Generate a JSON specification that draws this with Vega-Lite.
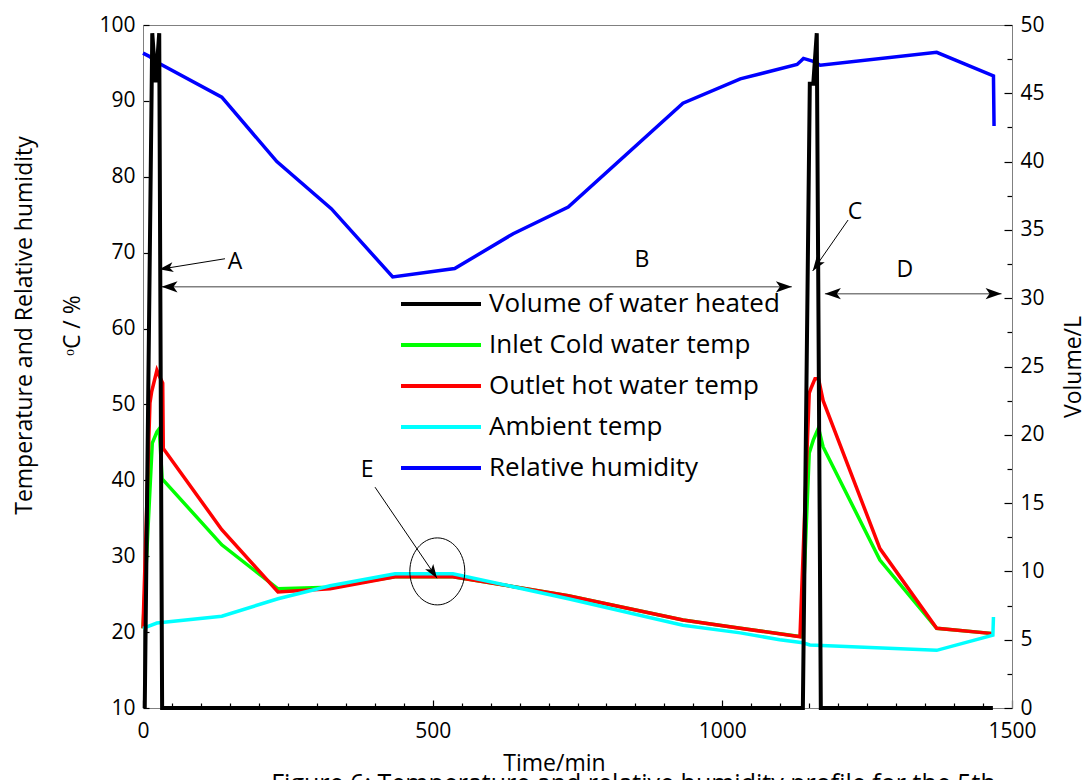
{
  "$schema": "https://vega.github.io/schema/vega-lite/v6.json",
  "width": 869,
  "height": 683,
  "autosize": {"type": "none"},
  "padding": {"left": 143, "top": 25, "right": 78, "bottom": 72},
  "background": "white",
  "config": {
    "font": "Open Sans",
    "view": {"stroke": "#808080", "strokeWidth": 1},
    "axis": {
      "labelFont": "Open Sans", "labelFontSize": 21, "labelColor": "#000000",
      "titleFont": "Open Sans", "titleFontSize": 23, "titleFontWeight": "normal", "titleColor": "#000000",
      "domainColor": "#808080", "tickColor": "#000000", "tickWidth": 1.2, "grid": false,
      "labelFlush": false, "labelOverlap": false, "labelBound": false, "format": "d"
    }
  },
  "title": {
    "text": "Figure 6: Temperature and relative humidity profile for the 5th",
    "orient": "bottom", "anchor": "middle", "font": "Open Sans", "fontSize": 25,
    "fontWeight": "normal", "color": "#000000", "offset": -3, "dx": 56
  },
  "datasets": {
    "series": [
      {"series": "Inlet Cold water temp", "t": 0, "v": 20.5},
      {"series": "Inlet Cold water temp", "t": 16, "v": 44.9},
      {"series": "Inlet Cold water temp", "t": 24, "v": 46.4},
      {"series": "Inlet Cold water temp", "t": 28, "v": 46.8},
      {"series": "Inlet Cold water temp", "t": 33, "v": 40.2},
      {"series": "Inlet Cold water temp", "t": 136, "v": 31.5},
      {"series": "Inlet Cold water temp", "t": 233, "v": 25.7},
      {"series": "Inlet Cold water temp", "t": 323, "v": 25.9},
      {"series": "Inlet Cold water temp", "t": 435, "v": 27.3},
      {"series": "Inlet Cold water temp", "t": 535, "v": 27.3},
      {"series": "Inlet Cold water temp", "t": 734, "v": 24.8},
      {"series": "Inlet Cold water temp", "t": 932, "v": 21.6},
      {"series": "Inlet Cold water temp", "t": 1031, "v": 20.5},
      {"series": "Inlet Cold water temp", "t": 1137, "v": 19.4},
      {"series": "Inlet Cold water temp", "t": 1150, "v": 43.6},
      {"series": "Inlet Cold water temp", "t": 1157, "v": 45.3},
      {"series": "Inlet Cold water temp", "t": 1161, "v": 46.0},
      {"series": "Inlet Cold water temp", "t": 1166, "v": 46.9},
      {"series": "Inlet Cold water temp", "t": 1174, "v": 44.4},
      {"series": "Inlet Cold water temp", "t": 1272, "v": 29.5},
      {"series": "Inlet Cold water temp", "t": 1370, "v": 20.5},
      {"series": "Inlet Cold water temp", "t": 1468, "v": 19.8},
      {"series": "Outlet hot water temp", "t": 0, "v": 20.5},
      {"series": "Outlet hot water temp", "t": 12, "v": 50.2},
      {"series": "Outlet hot water temp", "t": 15, "v": 51.7},
      {"series": "Outlet hot water temp", "t": 24, "v": 54.5},
      {"series": "Outlet hot water temp", "t": 29, "v": 53.6},
      {"series": "Outlet hot water temp", "t": 34, "v": 52.8},
      {"series": "Outlet hot water temp", "t": 35, "v": 44.2},
      {"series": "Outlet hot water temp", "t": 136, "v": 33.5},
      {"series": "Outlet hot water temp", "t": 233, "v": 25.3},
      {"series": "Outlet hot water temp", "t": 323, "v": 25.7},
      {"series": "Outlet hot water temp", "t": 435, "v": 27.3},
      {"series": "Outlet hot water temp", "t": 535, "v": 27.3},
      {"series": "Outlet hot water temp", "t": 734, "v": 24.8},
      {"series": "Outlet hot water temp", "t": 932, "v": 21.6},
      {"series": "Outlet hot water temp", "t": 1031, "v": 20.5},
      {"series": "Outlet hot water temp", "t": 1134, "v": 19.4},
      {"series": "Outlet hot water temp", "t": 1150, "v": 51.5},
      {"series": "Outlet hot water temp", "t": 1154, "v": 52.3},
      {"series": "Outlet hot water temp", "t": 1160, "v": 53.4},
      {"series": "Outlet hot water temp", "t": 1166, "v": 53.4},
      {"series": "Outlet hot water temp", "t": 1174, "v": 50.5},
      {"series": "Outlet hot water temp", "t": 1272, "v": 31.0},
      {"series": "Outlet hot water temp", "t": 1370, "v": 20.5},
      {"series": "Outlet hot water temp", "t": 1468, "v": 19.8},
      {"series": "Ambient temp", "t": 0, "v": 20.5},
      {"series": "Ambient temp", "t": 24, "v": 21.2},
      {"series": "Ambient temp", "t": 136, "v": 22.1},
      {"series": "Ambient temp", "t": 233, "v": 24.4},
      {"series": "Ambient temp", "t": 323, "v": 26.1},
      {"series": "Ambient temp", "t": 435, "v": 27.7},
      {"series": "Ambient temp", "t": 535, "v": 27.7},
      {"series": "Ambient temp", "t": 734, "v": 24.4},
      {"series": "Ambient temp", "t": 932, "v": 20.9},
      {"series": "Ambient temp", "t": 1031, "v": 19.9},
      {"series": "Ambient temp", "t": 1099, "v": 19.0},
      {"series": "Ambient temp", "t": 1139, "v": 18.6},
      {"series": "Ambient temp", "t": 1151, "v": 18.3},
      {"series": "Ambient temp", "t": 1370, "v": 17.6},
      {"series": "Ambient temp", "t": 1467, "v": 19.6},
      {"series": "Ambient temp", "t": 1468, "v": 22.0},
      {"series": "Relative humidity", "t": 0, "v": 96.3},
      {"series": "Relative humidity", "t": 10, "v": 95.9},
      {"series": "Relative humidity", "t": 29, "v": 94.9},
      {"series": "Relative humidity", "t": 136, "v": 90.5},
      {"series": "Relative humidity", "t": 231, "v": 82.0},
      {"series": "Relative humidity", "t": 325, "v": 75.8},
      {"series": "Relative humidity", "t": 431, "v": 66.8},
      {"series": "Relative humidity", "t": 538, "v": 67.9},
      {"series": "Relative humidity", "t": 639, "v": 72.5},
      {"series": "Relative humidity", "t": 734, "v": 76.0},
      {"series": "Relative humidity", "t": 932, "v": 89.7},
      {"series": "Relative humidity", "t": 1031, "v": 92.9},
      {"series": "Relative humidity", "t": 1129, "v": 94.8},
      {"series": "Relative humidity", "t": 1136, "v": 95.3},
      {"series": "Relative humidity", "t": 1140, "v": 95.6},
      {"series": "Relative humidity", "t": 1157, "v": 95.2},
      {"series": "Relative humidity", "t": 1169, "v": 94.7},
      {"series": "Relative humidity", "t": 1370, "v": 96.4},
      {"series": "Relative humidity", "t": 1468, "v": 93.3},
      {"series": "Relative humidity", "t": 1469, "v": 86.7}
    ],
    "volume": [
      {"series": "Volume of water heated", "t": 3, "vol": 0},
      {"series": "Volume of water heated", "t": 16, "vol": 49.4},
      {"series": "Volume of water heated", "t": 22, "vol": 45.8},
      {"series": "Volume of water heated", "t": 28, "vol": 49.4},
      {"series": "Volume of water heated", "t": 33, "vol": 0},
      {"series": "Volume of water heated", "t": 1139, "vol": 0},
      {"series": "Volume of water heated", "t": 1151, "vol": 45.7},
      {"series": "Volume of water heated", "t": 1157, "vol": 45.7},
      {"series": "Volume of water heated", "t": 1163, "vol": 49.4},
      {"series": "Volume of water heated", "t": 1170, "vol": 0},
      {"series": "Volume of water heated", "t": 1467, "vol": 0}
    ],
    "letters": [
      {"txt": "A", "t": 159, "v": 68.8},
      {"txt": "B", "t": 861, "v": 69.0},
      {"txt": "C", "t": 1229, "v": 75.4},
      {"txt": "D", "t": 1315, "v": 67.7},
      {"txt": "E", "t": 387, "v": 41.4}
    ],
    "slant": [
      {"name": "A", "t": 141.5, "v": 69.2, "t2": 28.1, "v2": 67.8},
      {"name": "C", "t": 1217, "v": 74.3, "t2": 1156, "v2": 67.6},
      {"name": "E", "t": 400.5, "v": 39.1, "t2": 507.5, "v2": 27.1}
    ],
    "spans": [
      {"name": "B", "t": 32, "v": 65.5, "t2": 1120},
      {"name": "D", "t": 1177, "v": 64.6, "t2": 1482}
    ],
    "heads": [
      {"id": "L", "t": 32, "v": 65.5},
      {"id": "L", "t": 1177, "v": 64.6},
      {"id": "R", "t": 1120, "v": 65.5},
      {"id": "R", "t": 1482, "v": 64.6},
      {"id": "A", "t": 28.1, "v": 67.8},
      {"id": "C", "t": 1156, "v": 67.6},
      {"id": "E", "t": 507.5, "v": 27.1}
    ],
    "circle": [
      {"name": "E", "t": 508, "v": 28.0}
    ]
  },
  "encoding": {
    "x": {
      "field": "t", "type": "quantitative",
      "scale": {"domain": [0, 1500], "nice": false, "zero": false},
      "axis": {
        "title": "Time/min",
        "titleX": 411,
        "values": [0, 50, 100, 150, 200, 250, 300, 350, 400, 450, 500, 550, 600, 650, 700, 750, 800, 850, 900, 950, 1000, 1050, 1100, 1150, 1200, 1250, 1300, 1350, 1400, 1450, 1500],
        "labelExpr": "datum.value % 500 === 0 ? datum.label : ''",
        "tickSize": {"condition": {"test": "datum.value % 500 === 0", "value": -8}, "value": -5},
        "labelPadding": 20,
        "titlePadding": 8
      }
    }
  },
  "layer": [
    {
      "encoding": {
        "y": {
          "field": "v", "type": "quantitative",
          "scale": {"domain": [10, 100], "nice": false, "zero": false},
          "axis": {
            "title": ["Temperature and Relative humidity", "ᵒC / %"],
            "titleLineHeight": 48,
            "titleY": 300,
            "values": [10, 20, 30, 40, 50, 60, 70, 80, 90, 100],
            "tickSize": -6,
            "labelPadding": 14,
            "titlePadding": 14
          }
        }
      },
      "layer": [
        {
          "data": {"name": "series"},
          "mark": {"type": "line", "strokeWidth": 3.5},
          "encoding": {
            "color": {
              "field": "series", "type": "nominal",
              "scale": {
                "domain": ["Volume of water heated", "Inlet Cold water temp", "Outlet hot water temp", "Ambient temp", "Relative humidity"],
                "range": ["#000000", "#00ff00", "#ff0000", "#00ffff", "#0000ff"]
              },
              "legend": {
                "title": null, "orient": "none", "legendX": 285, "legendY": 266,
                "padding": 0, "labelFont": "Open Sans", "labelFontSize": 26, "labelColor": "#000000",
                "labelLimit": 0,
                "symbolType": "M -4 0 L 4 0", "symbolSize": 400, "symbolStrokeWidth": 4,
                "labelOffset": 35, "rowPadding": 15
              }
            }
          }
        },
        {
          "data": {"name": "spans"},
          "mark": {"type": "rule", "color": "#808080", "strokeWidth": 1.5},
          "encoding": {"x2": {"field": "t2"}}
        },
        {
          "data": {"name": "slant"},
          "mark": {"type": "rule", "color": "#000000", "strokeWidth": 1},
          "encoding": {"x2": {"field": "t2"}, "y2": {"field": "v2"}}
        },
        {
          "data": {"name": "heads"},
          "transform": [{"filter": "datum.id === 'L'"}],
          "mark": {"type": "point", "shape": "M 0 0 L -2 -0.7 L -1.5 0 L -2 0.7 Z", "size": 256, "angle": 180, "filled": true, "color": "#000000", "opacity": 1, "strokeWidth": 0}
        },
        {
          "data": {"name": "heads"},
          "transform": [{"filter": "datum.id === 'R'"}],
          "mark": {"type": "point", "shape": "M 0 0 L -2 -0.7 L -1.5 0 L -2 0.7 Z", "size": 256, "angle": 0, "filled": true, "color": "#000000", "opacity": 1, "strokeWidth": 0}
        },
        {
          "data": {"name": "heads"},
          "transform": [{"filter": "datum.id === 'A'"}],
          "mark": {"type": "point", "shape": "M 0 0 L -2 -0.7 L -1.5 0 L -2 0.7 Z", "size": 196, "angle": 171, "filled": true, "color": "#000000", "opacity": 1, "strokeWidth": 0}
        },
        {
          "data": {"name": "heads"},
          "transform": [{"filter": "datum.id === 'C'"}],
          "mark": {"type": "point", "shape": "M 0 0 L -2 -0.7 L -1.5 0 L -2 0.7 Z", "size": 196, "angle": 125, "filled": true, "color": "#000000", "opacity": 1, "strokeWidth": 0}
        },
        {
          "data": {"name": "heads"},
          "transform": [{"filter": "datum.id === 'E'"}],
          "mark": {"type": "point", "shape": "M 0 0 L -2 -0.7 L -1.5 0 L -2 0.7 Z", "size": 196, "angle": 56, "filled": true, "color": "#000000", "opacity": 1, "strokeWidth": 0}
        },
        {
          "data": {"name": "circle"},
          "mark": {"type": "point", "shape": "M -0.82 0 A 0.82 1 0 1 0 0.82 0 A 0.82 1 0 1 0 -0.82 0 Z", "size": 4489, "filled": false, "stroke": "#000000", "strokeWidth": 1, "opacity": 1}
        },
        {
          "data": {"name": "letters"},
          "mark": {"type": "text", "font": "Open Sans", "fontSize": 23, "color": "#000000", "align": "center", "baseline": "middle"},
          "encoding": {"text": {"field": "txt"}}
        }
      ]
    },
    {
      "data": {"name": "volume"},
      "mark": {"type": "line", "strokeWidth": 4},
      "encoding": {
        "y": {
          "field": "vol", "type": "quantitative",
          "scale": {"domain": [0, 50], "nice": false, "zero": false},
          "axis": {
            "orient": "right",
            "title": "Volume/L",
            "titleAngle": 270,
            "titleBaseline": "top",
            "values": [0, 2.5, 5, 7.5, 10, 12.5, 15, 17.5, 20, 22.5, 25, 27.5, 30, 32.5, 35, 37.5, 40, 42.5, 45, 47.5, 50],
            "labelExpr": "datum.value % 5 === 0 ? datum.label : ''",
            "tickSize": {"condition": {"test": "datum.value % 5 === 0", "value": -8}, "value": -5},
            "labelPadding": 16,
            "titlePadding": 18
          }
        },
        "color": {"field": "series", "type": "nominal"}
      }
    }
  ],
  "resolve": {"scale": {"y": "independent"}}
}
